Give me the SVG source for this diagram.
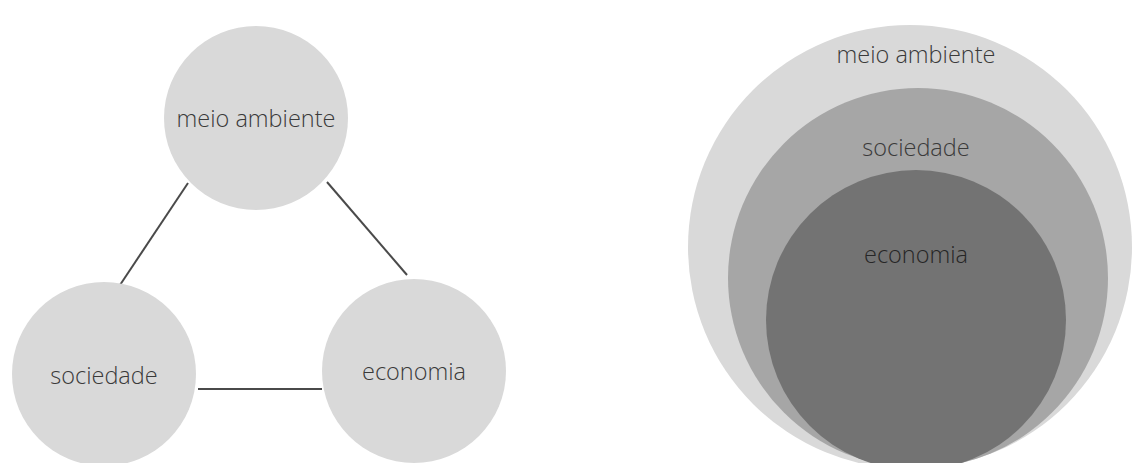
<svg xmlns="http://www.w3.org/2000/svg" width="1134" height="463" viewBox="0 0 1134 463">
<style>
.lbl{font-family:"Open Sans","Liberation Sans",sans-serif;font-size:23.5px;font-weight:300;fill:#3a3a3a;text-anchor:middle}
.node{fill:#d9d9d9}
.edge{stroke:#4a4a4a;stroke-width:2;fill:none}
</style>
<rect width="1134" height="463" fill="#ffffff"/>
<g id="connectors">
<line class="edge" x1="188" y1="183" x2="120" y2="285"/>
<line class="edge" x1="327" y1="182" x2="407" y2="275"/>
<line class="edge" x1="198" y1="389" x2="322" y2="389"/>
</g>
<g id="meio-ambiente">
<circle class="node" cx="256" cy="118" r="92"/>
<text class="lbl" x="256" y="127">meio ambiente</text>
</g>
<g id="sociedade">
<circle class="node" cx="104" cy="374" r="92"/>
<text class="lbl" x="104" y="384">sociedade</text>
</g>
<g id="economia">
<circle class="node" cx="414" cy="371" r="92"/>
<text class="lbl" x="414" y="380">economia</text>
</g>
<g id="nested-meio-ambiente">
<circle cx="910" cy="247" r="222" fill="#d9d9d9"/>
<text class="lbl" x="916" y="63">meio ambiente</text>
</g>
<g id="nested-sociedade">
<circle cx="918" cy="278" r="190" fill="#a6a6a6"/>
<text class="lbl" x="916" y="156">sociedade</text>
</g>
<g id="nested-economia">
<circle cx="916" cy="320" r="150" fill="#737373"/>
<text class="lbl" x="916" y="263" style="fill:#262626">economia</text>
</g>
</svg>
